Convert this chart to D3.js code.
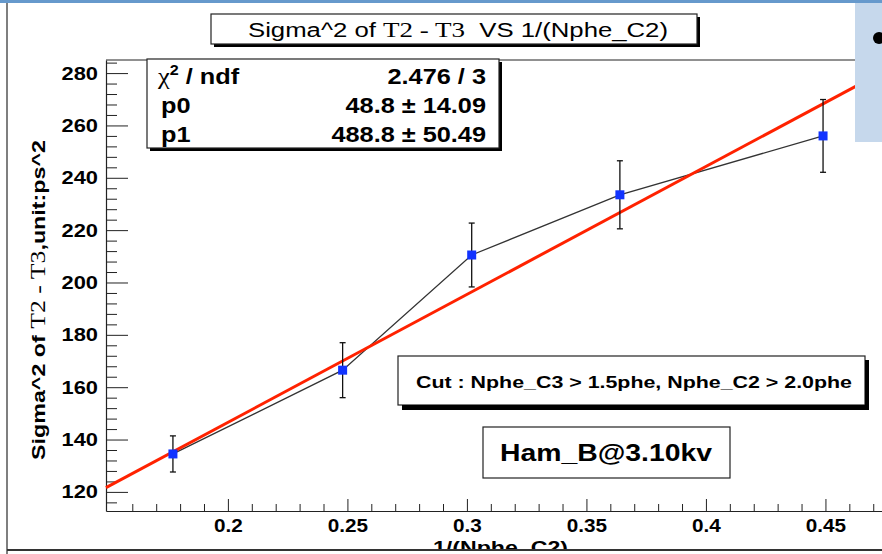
<!DOCTYPE html>
<meta charset="utf-8">
<style>
  body { margin: 0; background: #fff; }
  text { font-family: "Liberation Sans", Arial, sans-serif; }
  .serif { font-family: "Liberation Serif", "Times New Roman", serif; font-weight: normal; }
</style>
<script src="https://d3js.org/d3.v7.min.js"></script>
<div id="chart"></div>
<script>
// measured points: 1/(Nphe_C2) vs sigma^2 (ps^2)
var xVals = [0.177, 0.248, 0.302, 0.364, 0.449];
var yVals = [134.5, 166.5, 210.5, 233.5, 256.0];
var yErrs = [6.9, 10.5, 12.2, 13.0, 13.9];

// linear fit p0 + p1*x
var p0 = 48.8, p1 = 488.8;
var statNames = ["ndf", "p0", "p1"];
var statValues = ["2.476 / 3", "48.8 \u00b1 14.09", "488.8 \u00b1 50.49"];

var xTicks = [0.2, 0.25, 0.3, 0.35, 0.4, 0.45];
var yTicks = [120, 140, 160, 180, 200, 220, 240, 260, 280];

var W = 882, H = 554;
var svg = d3.select("#chart").append("svg").attr("width", W).attr("height", H);

var padL = 106, padR = 884, padT = 60, padB = 511;
var x = d3.scaleLinear().domain([0.149, 0.4745]).range([padL, padR]);
var y = d3.scaleLinear().domain([112.7, 285]).range([padB, padT]);

// the screenshot is a bit wider than tall, so text gets stretched sideways
function widen(sel, k) {
  sel.each(function() {
    var len = this.getComputedTextLength();
    d3.select(this).attr("textLength", len * k).attr("lengthAdjust", "spacingAndGlyphs");
  });
}
function fitTo(sel, w) {
  sel.attr("textLength", w).attr("lengthAdjust", "spacingAndGlyphs");
}

// slide decorations
svg.append("rect").attr("x", 0).attr("y", 0).attr("width", W).attr("height", 3).attr("fill", "#6699cc");
svg.append("line").attr("x1", 7).attr("x2", 7).attr("y1", 3).attr("y2", H)
    .attr("stroke", "#555").attr("stroke-width", 1.5);

// frame top
svg.append("line").attr("x1", padL).attr("x2", padR).attr("y1", padT).attr("y2", padT)
    .attr("stroke", "#222").attr("stroke-width", 1);

// y axis (ticks inward)
var yAxis = svg.append("g").attr("transform", "translate(" + padL + ",0)")
  .call(d3.axisLeft(y).tickValues(yTicks).tickSizeInner(-22).tickSizeOuter(0).tickPadding(8));
svg.append("g").attr("transform", "translate(" + padL + ",0)")
  .call(d3.axisLeft(y).tickValues(d3.range(116, 285, 4).filter(function(v) { return v % 20 != 0; }))
    .tickSizeInner(-11).tickSizeOuter(0).tickFormat(""))
  .select(".domain").remove();

// x axis
var xAxis = svg.append("g").attr("transform", "translate(0," + padB + ")")
  .call(d3.axisBottom(x).tickValues(xTicks).tickSizeInner(-12).tickSizeOuter(0).tickPadding(8)
    .tickFormat(function(d) { return String(+d.toFixed(2)); }));
svg.append("g").attr("transform", "translate(0," + padB + ")")
  .call(d3.axisBottom(x).tickValues(d3.range(15, 48).map(function(v) { return v / 100; })
      .filter(function(v) { return Math.round(v * 100) % 5 != 0; }))
    .tickSizeInner(-7).tickSizeOuter(0).tickFormat(""))
  .select(".domain").remove();

svg.selectAll(".tick line").attr("stroke", "#222");
svg.selectAll(".domain").attr("stroke", "#222").attr("stroke-width", 1.2);
yAxis.selectAll("text").attr("font-size", 19).attr("font-weight", "bold").attr("fill", "#000").call(widen, 1.15);
xAxis.selectAll("text").attr("font-size", 18).attr("font-weight", "bold").attr("fill", "#000").call(widen, 1.15);

// data polyline
var pts = xVals.map(function(v, i) { return [v, yVals[i], yErrs[i]]; });
svg.append("path").datum(pts)
  .attr("d", d3.line().x(function(d) { return x(d[0]); }).y(function(d) { return y(d[1]); }))
  .attr("fill", "none").attr("stroke", "#333").attr("stroke-width", 1.3);

// fit line
var xd = x.domain();
svg.append("line")
  .attr("x1", x(xd[0])).attr("y1", y(p0 + p1 * xd[0]))
  .attr("x2", x(xd[1])).attr("y2", y(p0 + p1 * xd[1]))
  .attr("stroke", "#ff2200").attr("stroke-width", 3);

// error bars
var eb = svg.append("g").attr("stroke", "#111").attr("stroke-width", 1.3);
pts.forEach(function(d) {
  var cx = x(d[0]);
  eb.append("line").attr("x1", cx).attr("x2", cx).attr("y1", y(d[1] - d[2])).attr("y2", y(d[1] + d[2]));
  eb.append("line").attr("x1", cx - 3).attr("x2", cx + 3).attr("y1", y(d[1] + d[2])).attr("y2", y(d[1] + d[2]));
  eb.append("line").attr("x1", cx - 3).attr("x2", cx + 3).attr("y1", y(d[1] - d[2])).attr("y2", y(d[1] - d[2]));
});
svg.append("g").selectAll("rect").data(pts).enter().append("rect")
  .attr("x", function(d) { return x(d[0]) - 4.5; })
  .attr("y", function(d) { return y(d[1]) - 4.5; })
  .attr("width", 9).attr("height", 9).attr("fill", "#1133ff");

// boxes with shadow
function box(bx, by, bw, bh, sh) {
  if (sh) svg.append("rect").attr("x", bx + sh).attr("y", by + sh).attr("width", bw).attr("height", bh).attr("fill", "#000");
  svg.append("rect").attr("x", bx).attr("y", by).attr("width", bw).attr("height", bh)
    .attr("fill", "#fff").attr("stroke", "#222").attr("stroke-width", 1.2);
}

// title
box(211, 14, 486, 30, 3);
var tt = svg.append("text").attr("x", 248).attr("y", 37).attr("font-size", 20);
tt.append("tspan").text("Sigma^2 of ");
tt.append("tspan").attr("class", "serif").attr("font-size", 21).text("T2 - T3");
tt.append("tspan").text("\u00a0 VS 1/(Nphe_C2)");
fitTo(tt, 420);

// stats box
box(147, 59, 352, 89, 3);
var rowsY = [84, 113, 142];
var st = svg.append("text").attr("x", 158).attr("y", rowsY[0]).attr("font-size", 22).attr("font-weight", "bold");
st.append("tspan").attr("class", "serif").attr("font-size", 23).text("\u03c7");
st.append("tspan").attr("font-size", 14).attr("dy", -9).text("2");
st.append("tspan").attr("dy", 9).text(" / " + statNames[0]);
widen(st, 1.15);
svg.selectAll(".statname").data(statNames.slice(1)).enter().append("text")
  .attr("x", 161).attr("y", function(d, i) { return rowsY[i + 1]; })
  .attr("font-size", 22).attr("font-weight", "bold").text(function(d) { return d; })
  .call(widen, 1.15);
svg.selectAll(".statval").data(statValues).enter().append("text")
  .attr("x", 486).attr("y", function(d, i) { return rowsY[i]; }).attr("text-anchor", "end")
  .attr("font-size", 22).attr("font-weight", "bold").text(function(d) { return d; })
  .call(widen, 1.15);

// cut box
box(398, 356, 467, 49, 0);
svg.append("rect").attr("x", 402).attr("y", 405).attr("width", 467).attr("height", 5).attr("fill", "#000");
svg.append("rect").attr("x", 865).attr("y", 360).attr("width", 4).attr("height", 50).attr("fill", "#000");
svg.append("text").attr("x", 416).attr("y", 388)
  .attr("font-size", 17).attr("font-weight", "bold").text("Cut : Nphe_C3 > 1.5phe, Nphe_C2 > 2.0phe")
  .call(fitTo, 436);

// detector box
box(483, 427, 247, 51, 0);
svg.append("text").attr("x", 500).attr("y", 461)
  .attr("font-size", 24).attr("font-weight", "bold").text("Ham_B@3.10kv")
  .call(fitTo, 212);

// axis titles
var yt = svg.append("text").attr("transform", "translate(45,460) rotate(-90)")
  .attr("font-size", 19).attr("font-weight", "bold");
yt.append("tspan").text("Sigma^2 of ");
yt.append("tspan").attr("class", "serif").attr("font-size", 21).text("T2 - T3");
yt.append("tspan").text(",unit:ps^2");
fitTo(yt, 320);

// sits under the slide's bottom edge, so only its top half shows
svg.append("text").attr("x", 433).attr("y", 554)
  .attr("font-size", 19).attr("font-weight", "bold").text("1/(Nphe_C2)")
  .call(fitTo, 135);

// bottom edge of slide area
svg.append("rect").attr("x", 8).attr("y", 550).attr("width", W).attr("height", 4).attr("fill", "#fff");
svg.append("line").attr("x1", 7).attr("x2", W).attr("y1", 550).attr("y2", 550)
  .attr("stroke", "#333").attr("stroke-width", 2);

// side panel with bullet
svg.append("rect").attr("x", 855).attr("y", 3).attr("width", 27).attr("height", 139).attr("fill", "#c6d8ec");
svg.append("circle").attr("cx", 879).attr("cy", 38).attr("r", 6).attr("fill", "#000");
</script>
